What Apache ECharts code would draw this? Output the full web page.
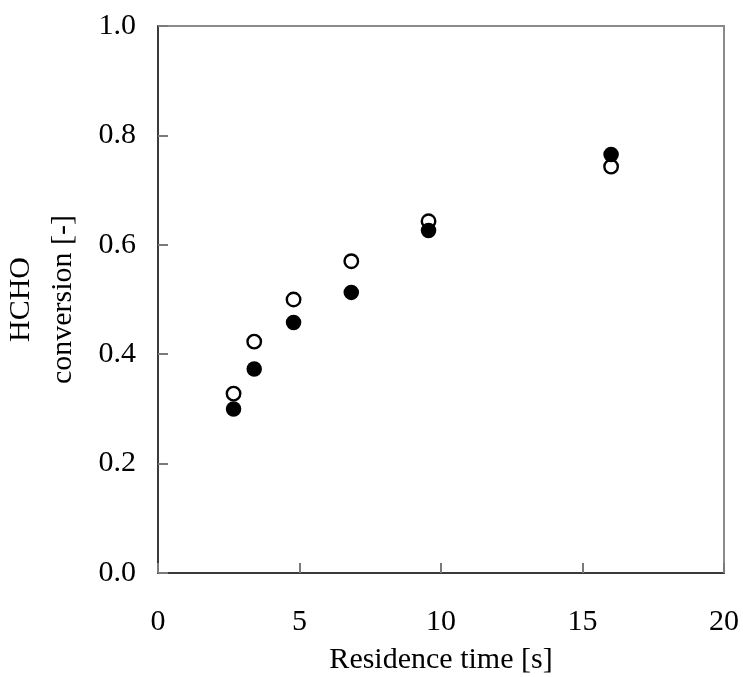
<!DOCTYPE html>
<html>
<head>
<meta charset="utf-8">
<script src="https://cdn.jsdelivr.net/npm/echarts@6/dist/echarts.min.js"></script>
<style>
  html, body { margin: 0; padding: 0; background: #fff; }
  #chart { width: 743px; height: 677px; }
</style>
</head>
<body>
<div id="chart"></div>
<script>
// Residence time [s] for each run
var residenceTime = [2.67, 3.40, 4.79, 6.83, 9.56, 16.01];
// HCHO conversion, open-circle series
var conversionOpen = [0.328, 0.423, 0.500, 0.570, 0.643, 0.743];
// HCHO conversion, filled-circle series
var conversionFilled = [0.300, 0.373, 0.458, 0.513, 0.626, 0.765];

var xTicks = [0, 5, 10, 15, 20];
var yTicks = [0.0, 0.2, 0.4, 0.6, 0.8, 1.0];

function pairs(xs, ys) {
  return xs.map(function (x, i) { return [x, ys[i]]; });
}

var serif = '"Liberation Serif", "Times New Roman", serif';

var chart = echarts.init(document.getElementById('chart'), null, { renderer: 'canvas' });
chart.setOption({
  animation: false,
  backgroundColor: '#ffffff',
  grid: {
    left: 158, right: 19, top: 26, bottom: 104,
    outerBoundsMode: 'none', containLabel: false,
    show: true, borderColor: '#8a8a8a', borderWidth: 2, backgroundColor: 'transparent'
  },
  xAxis: {
    type: 'value',
    min: xTicks[0], max: xTicks[xTicks.length - 1], interval: 5,
    name: 'Residence time [s]',
    nameLocation: 'middle', nameGap: 72,
    nameTextStyle: { fontFamily: serif, fontSize: 30, color: '#000' },
    axisLine: { show: true, onZero: false, lineStyle: { color: '#3a3a3a', width: 2 } },
    axisTick: { show: true, inside: true, length: 10, lineStyle: { color: '#7a7a7a', width: 2 } },
    axisLabel: { margin: 34, fontFamily: serif, fontSize: 30, color: '#000',
      formatter: function (v) { return String(v); } },
    splitLine: { show: false }
  },
  yAxis: {
    type: 'value',
    min: yTicks[0], max: yTicks[yTicks.length - 1], interval: 0.2,
    name: 'HCHO\nconversion [-]',
    nameLocation: 'middle', nameGap: 74, nameRotate: 90,
    nameTextStyle: { fontFamily: serif, fontSize: 30, color: '#000', lineHeight: 42, align: 'center' },
    axisLine: { show: true, onZero: false, lineStyle: { color: '#3a3a3a', width: 2 } },
    axisTick: { show: true, inside: true, length: 10, lineStyle: { color: '#7a7a7a', width: 2 } },
    axisLabel: { margin: 22, fontFamily: serif, fontSize: 30, color: '#000',
      formatter: function (v) { return v.toFixed(1); } },
    splitLine: { show: false }
  },
  series: [
    {
      name: 'open',
      type: 'scatter',
      data: pairs(residenceTime, conversionOpen),
      symbol: 'circle', symbolSize: 13.5,
      itemStyle: { color: '#ffffff', borderColor: '#000000', borderWidth: 2.4, opacity: 1 },
      z: 2
    },
    {
      name: 'filled',
      type: 'scatter',
      data: pairs(residenceTime, conversionFilled),
      symbol: 'circle', symbolSize: 15.5,
      itemStyle: { color: '#000000', opacity: 1 },
      z: 3
    }
  ]
});
</script>
</body>
</html>
